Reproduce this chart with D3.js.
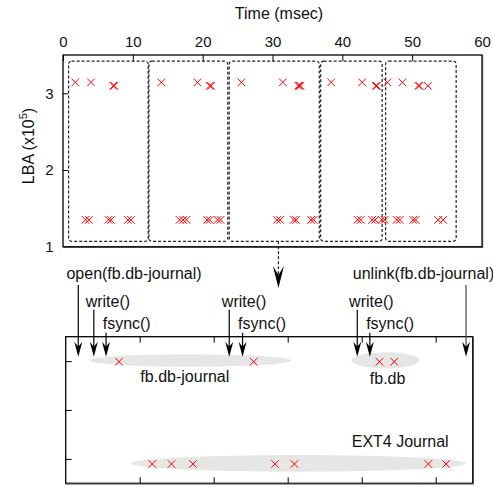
<!DOCTYPE html>
<html><head><meta charset="utf-8">
<script src="https://cdn.jsdelivr.net/npm/d3@7"></script>
<style>
body{margin:0;background:#fff;}
svg{display:block;font-family:"Liberation Sans",Arial,Helvetica,sans-serif;}
</style></head><body>
<svg id="chart" width="493" height="487"></svg>
<script>
// ---- Block trace: LBA of every write over time ----
const timeTicks = [0, 10, 20, 30, 40, 50, 60];
const lbaTicks = [1, 2, 3];
// writes to the journal file area (LBA ~3.14e5)
const journalWritesT = [1.76, 4.01, 14.08, 19.24, 25.54, 31.48, 38.4, 42.84, 46.46, 48.61];
const journalLBA = 3.143;
// writes to the database file area (LBA ~3.10e5)
const dbWritesT = [7.2, 7.35, 21.0, 21.2, 33.7, 33.85, 34.0, 44.8, 44.95, 50.9, 51.05, 52.25];
const dbLBA = 3.098;
// writes to the EXT4 journal area (LBA ~1.35e5)
const ext4WritesT = [3.22, 3.72, 6.52, 6.88, 9.31, 9.74, 16.69, 17.19, 17.69, 20.63, 20.99,
  22.13, 22.56, 30.66, 31.09, 33.02, 33.38, 35.53, 35.89, 42.19, 42.62, 44.27, 44.7,
  45.63, 46.06, 47.78, 48.21, 50.14, 50.5, 53.72, 54.44];
const ext4LBA = 1.35;
// one group per transaction
const groupStart = [0.8, 12.3, 23.8, 36.9, 46.2];
const groupEnd = [12.2, 23.6, 36.7, 45.7, 56.3];
const groupLBA = [1.07, 3.42];
const zoomAt = 30.85;      // time where the detail view is taken
const zoomArrowEnd = 0.46; // LBA units below the axis

// ---- Detail of one transaction ----
const detailTicks = [1, 2, 3, 4, 5];
const rowTicks = [1, 2, 3];
const fileRow = 2.988;
const fileWritesX = [0.72, 2.54, 4.24, 4.44];
const journalRow = 0.895;
const ext4DetailX = [1.17, 1.43, 1.72, 2.83, 3.09, 4.9, 5.14];
const regionNames = ["fb.db-journal", "fb.db", "EXT4 Journal"];
const regionFrom = [0.32, 3.86, 0.88];
const regionTo = [3.05, 4.78, 5.41];
const regionTop = [3.14, 3.18, 1.079];
const regionBottom = [2.886, 2.853, 0.737];
const regionLabelX = [1.61, 4.35, 4.52];
const regionLabelRow = [2.58, 2.53, 1.25];
const callNames = ["open(fb.db-journal)", "write()", "fsync()", "write()", "fsync()",
  "write()", "fsync()", "unlink(fb.db-journal)"];
const callX = [0.17, 0.38, 0.545, 2.21, 2.39, 3.94, 4.11, 5.41];
const callFrom = [4.56, 4.05, 3.58, 4.05, 3.58, 4.05, 3.58, 4.56];
const callTo = 3.09;
const callLabelX = [0.01, 0.27, 0.5, 2.11, 2.33, 3.83, 4.06, 3.88];
const callLabelRow = [4.69, 4.11, 3.66, 4.11, 3.66, 4.11, 3.66, 4.69];

const svg = d3.select("#chart");
const RED = "#ff0000";

function xMark(sel, r) {
  return sel.attr("d", `M${-r},${-r}L${r},${r}M${-r},${r}L${r},${-r}`)
    .attr("fill", "none").attr("stroke", RED).attr("stroke-width", 1);
}
function frame(x0, y0, x1, y1) {
  svg.append("rect").attr("x", x0).attr("y", y0).attr("width", x1 - x0).attr("height", y1 - y0)
    .attr("fill", "none").attr("stroke", "#000").attr("stroke-width", 1.3);
  svg.append("path").attr("d", `M${x0},${y1 + 0.6}H${x1 + 0.6}V${y0}`)
    .attr("fill", "none").attr("stroke", "#444").attr("stroke-width", 1.2);
}
function styleAxis(g, size) {
  g.select(".domain").remove();
  g.selectAll(".tick line").attr("stroke", "#000").attr("stroke-width", 1);
  g.selectAll(".tick text").attr("font-size", size).attr("fill", "#111");
}

// ===== upper panel =====
const x = d3.scaleLinear().domain([0, 60]).range([63, 482]);
const y = d3.scaleLinear().domain([1, 3.5]).range([246.7, 55]);

// transaction groups
svg.append("g").selectAll("rect").data(groupStart).join("rect")
  .attr("x", (d) => x(d))
  .attr("y", y(groupLBA[1]))
  .attr("width", (d, i) => x(groupEnd[i]) - x(d))
  .attr("height", y(groupLBA[0]) - y(groupLBA[1]))
  .attr("rx", 3).attr("fill", "none")
  .attr("stroke", "#222").attr("stroke-width", 1.2).attr("stroke-dasharray", "3,2");

const gTop = svg.append("g").attr("transform", `translate(0,${y.range()[1]})`)
  .call(d3.axisTop(x).tickValues(timeTicks).tickSize(-6).tickPadding(8.5).tickFormat(d3.format("d")));
styleAxis(gTop, 15);
const gLeft = svg.append("g").attr("transform", `translate(${x.range()[0]},0)`)
  .call(d3.axisLeft(y).tickValues(lbaTicks).tickSize(-5).tickPadding(9.5).tickFormat(d3.format("d")));
styleAxis(gLeft, 15);

frame(63, 55, 482, 246.7);

svg.append("text").attr("x", 279).attr("y", 19).attr("text-anchor", "middle")
  .attr("font-size", 16).attr("fill", "#111").text("Time (msec)");
const yl = svg.append("text").attr("transform", "translate(33.5,146) rotate(-90)")
  .attr("text-anchor", "middle").attr("font-size", 16).attr("fill", "#111");
yl.append("tspan").text("LBA (x10");
yl.append("tspan").attr("dy", -7).attr("font-size", 11).text("5");
yl.append("tspan").attr("dy", 7).text(")");

const marks = svg.append("g");
marks.selectAll(".j").data(journalWritesT).join("path").attr("class", "j")
  .attr("transform", (d) => `translate(${x(d)},${y(journalLBA)})`).call(xMark, 3.8);
marks.selectAll(".d").data(dbWritesT).join("path").attr("class", "d")
  .attr("transform", (d) => `translate(${x(d)},${y(dbLBA)})`).call(xMark, 3.8);
marks.selectAll(".e").data(ext4WritesT).join("path").attr("class", "e")
  .attr("transform", (d) => `translate(${x(d)},${y(ext4LBA)})`).call(xMark, 3.8);

// link from the zoomed group to the detail view
const arrowHead = (tx, ty, w, len, notch, fill) =>
  svg.append("path")
    .attr("d", `M${tx},${ty}L${tx - w / 2},${ty - len}L${tx},${ty - notch}L${tx + w / 2},${ty - len}Z`)
    .attr("fill", fill).attr("stroke", "none");
svg.append("line").attr("x1", x(zoomAt)).attr("x2", x(zoomAt))
  .attr("y1", y(groupLBA[0])).attr("y2", y(zoomArrowEnd) - 12)
  .attr("stroke", "#222").attr("stroke-width", 1.2).attr("stroke-dasharray", "3,2");
arrowHead(x(zoomAt), y(zoomArrowEnd), 11, 22, 13, "#000");

// ===== lower panel =====
const x2 = d3.scaleLinear().domain([0, 5.5]).range([65.7, 472.7]);
const y2 = d3.scaleLinear().domain([0.5, 3.5]).range([483.3, 336.7]);

// file regions
svg.append("g").selectAll("ellipse").data(regionNames).join("ellipse")
  .attr("cx", (d, i) => (x2(regionFrom[i]) + x2(regionTo[i])) / 2)
  .attr("cy", (d, i) => (y2(regionTop[i]) + y2(regionBottom[i])) / 2)
  .attr("rx", (d, i) => (x2(regionTo[i]) - x2(regionFrom[i])) / 2)
  .attr("ry", (d, i) => (y2(regionBottom[i]) - y2(regionTop[i])) / 2)
  .attr("fill", "#e6e6e6");
svg.append("g").selectAll("text").data(regionNames).join("text")
  .attr("x", (d, i) => x2(regionLabelX[i])).attr("y", (d, i) => y2(regionLabelRow[i]))
  .attr("text-anchor", "middle").attr("font-size", 16).attr("fill", "#111").text((d) => d);

const a1 = svg.append("g").attr("transform", `translate(0,${y2.range()[1]})`)
  .call(d3.axisTop(x2).tickValues(detailTicks).tickSize(-6).tickFormat(""));
styleAxis(a1, 0);
const a2 = svg.append("g").attr("transform", `translate(0,${y2.range()[0]})`)
  .call(d3.axisBottom(x2).tickValues(detailTicks).tickSize(-6).tickFormat(""));
styleAxis(a2, 0);
const a3 = svg.append("g").attr("transform", `translate(${x2.range()[0]},0)`)
  .call(d3.axisLeft(y2).tickValues(rowTicks).tickSize(-6).tickFormat(""));
styleAxis(a3, 0);

frame(65.7, 336.7, 472.7, 483.3);

const m2 = svg.append("g");
m2.selectAll(".f").data(fileWritesX).join("path").attr("class", "f")
  .attr("transform", (d) => `translate(${x2(d)},${y2(fileRow)})`).call(xMark, 3.8);
m2.selectAll(".k").data(ext4DetailX).join("path").attr("class", "k")
  .attr("transform", (d) => `translate(${x2(d)},${y2(journalRow)})`).call(xMark, 3.8);

// system calls
callNames.forEach((name, i) => {
  const cx = x2(callX[i]);
  const last = i === callNames.length - 1;
  svg.append("line").attr("x1", cx).attr("x2", cx)
    .attr("y1", y2(callFrom[i])).attr("y2", y2(callTo) - 8)
    .attr("stroke", last ? "#444" : "#000").attr("stroke-width", 1.2);
  arrowHead(cx, y2(callTo), 8, 15, 10, "#000");
  svg.append("text").attr("x", x2(callLabelX[i])).attr("y", y2(callLabelRow[i]))
    .attr("font-size", 16).attr("fill", "#111").text(name);
});
</script>
</body></html>
